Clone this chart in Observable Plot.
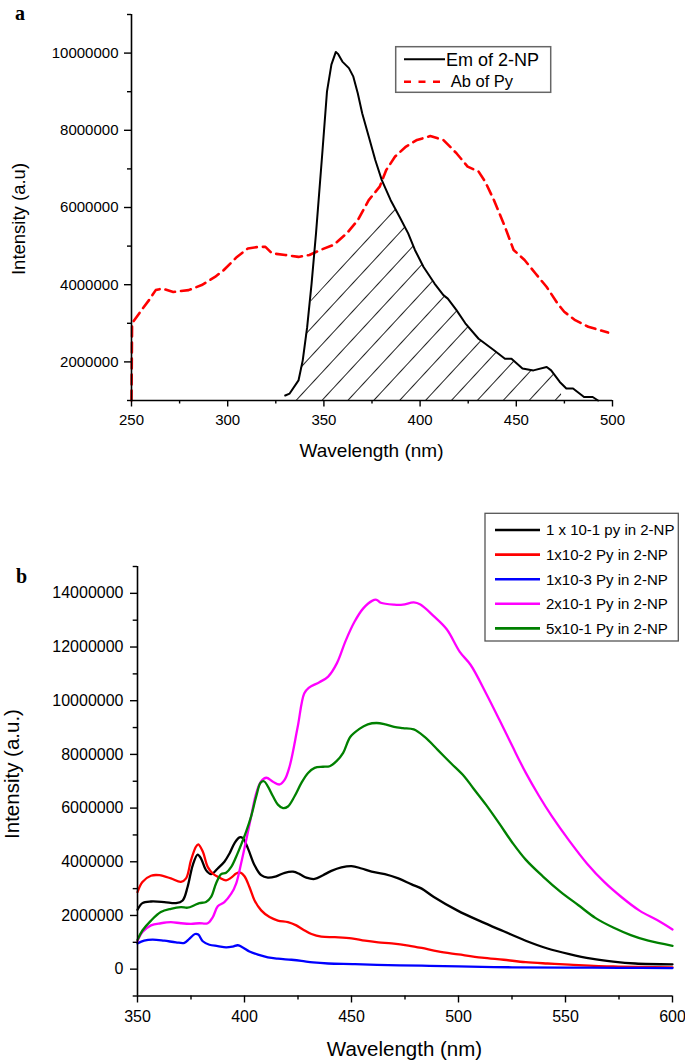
<!DOCTYPE html>
<html><head><meta charset="utf-8">
<script src="https://cdn.jsdelivr.net/npm/d3@7"></script>
<script src="https://cdn.jsdelivr.net/npm/@observablehq/plot@0.6"></script>
<style>
html,body{margin:0;padding:0;background:#fff;}
#wrap{width:685px;height:1062px;overflow:hidden;}
#wrap svg{display:block;}
</style></head><body><div id="wrap"></div>
<script>
// ---------- Panel a data (intensity in millions) ----------
const emNm  = [329.9,332.2,336.8,339.0,341.3,343.6,345.9,349.3,351.6,353.9,356.2,357.3,359.6,363.0,365.3,367.6,369.9,373.3,376.7,380.1,384.7,389.3,393.8,397.3,401.8,407.5,412.1,414.4,418.9,423.5,430.4,438.4,444.1,447.5,453.2,458.9,465.8,468.1,472.6,476.0,479.5,485.2,489.7,492.5];
const emVal = [1.13,1.18,1.52,2.04,2.9,4.03,5.33,7.49,9.0,9.7,10.03,9.98,9.78,9.61,9.39,8.96,8.44,7.84,7.23,6.71,6.19,5.76,5.33,4.9,4.46,4.03,3.73,3.64,3.34,3.0,2.6,2.3,2.08,2.08,1.83,1.78,1.87,1.78,1.48,1.31,1.31,1.09,1.09,1.0];
const abNm  = [250,250.3,254.6,259.1,262.6,266,271.7,279.7,286.5,293.4,298,304.8,310.5,316.2,319.6,323.1,329.9,336.8,342.5,348.2,355,361.9,367.6,373.3,379,382.4,387,392.7,398.4,405.3,412.1,419,424.7,430.4,433.8,438.4,444.1,448.6,454.3,460,465.8,471.5,474.9,480.6,487.4,497.7];
const abVal = [1.0,3.0,3.3,3.6,3.86,3.9,3.81,3.86,3.99,4.2,4.38,4.72,4.94,4.98,4.98,4.81,4.77,4.72,4.77,4.9,5.03,5.33,5.67,6.19,6.54,6.97,7.32,7.58,7.75,7.85,7.75,7.4,7.06,6.93,6.67,6.19,5.5,4.9,4.64,4.29,3.94,3.51,3.3,3.08,2.91,2.76];
// hatched overlap region (top edge)
const hatchNm  = [333,336.8,339.0,341.3,343.6,387,389.3,393.8,397.3,401.8,407.5,412.1,414.4,418.9,423.5,430.4,438.4,444.1,447.5,453.2,458.9,465.8,468.1,472.6,474];
const hatchTop = [1.2,1.52,2.04,2.9,3.6,6.0,5.76,5.33,4.9,4.46,4.03,3.73,3.64,3.34,3.0,2.6,2.3,2.08,2.08,1.83,1.78,1.87,1.78,1.48,1.0];
const legendA = ["Em of 2-NP","Ab of Py"];
const xTicksA = [250,300,350,400,450,500], xMinorA = [275,325,375,425,475];
const yTicksA = [2e6,4e6,6e6,8e6,10e6], yMinorA = [1e6,3e6,5e6,7e6,9e6,11e6];

// ---------- Panel b data (intensity in millions) ----------
const seriesNames = ["1 x 10-1 py in 2-NP","1x10-2 Py in 2-NP","1x10-3 Py in 2-NP","2x10-1 Py in 2-NP","5x10-1 Py in 2-NP"];
const seriesColors = ["#000000","#ff0000","#0000ff","#ff00ff","#008000"];
const blackNm = [350,352.3,356.3,362.5,368,371.1,373.4,375.8,378.1,379.7,382,384.4,387.5,390.6,393,395.3,397.7,399.2,401.6,404.7,407.8,410.9,414.8,418.8,422.7,425.8,428.9,432.8,436.7,440.6,445.3,450,454.7,459.4,465.6,471.9,478.1,482.8,488.3,499.6,510.9,521.1,531.4,541.6,551.8,562.1,572.3,582.6,600];
const blackVal = [2.21,2.46,2.52,2.5,2.46,2.56,3.06,3.87,4.27,4.12,3.69,3.54,3.75,4.0,4.31,4.69,4.91,4.88,4.5,3.87,3.5,3.41,3.46,3.59,3.63,3.54,3.41,3.36,3.5,3.66,3.79,3.84,3.75,3.63,3.54,3.38,3.16,3.0,2.7,2.18,1.76,1.41,1.06,0.77,0.56,0.39,0.28,0.21,0.18];
const redNm = [350,352.3,356.3,360.2,365.6,370.3,372.7,375,377.3,378.4,380.5,382.8,385.2,388.3,391.4,393.8,396.1,398.1,400,402.3,404.7,407.8,411.7,415.6,420.3,424.2,427.3,431.3,435.9,442.2,450,456.3,462.5,468.8,476.6,482.8,490.4,500,510.9,521.1,531.4,541.6,551.8,572.3,600];
const redVal = [2.87,3.25,3.48,3.5,3.38,3.25,3.38,4.06,4.56,4.65,4.38,3.81,3.56,3.41,3.31,3.41,3.56,3.6,3.46,3.06,2.56,2.19,1.94,1.81,1.75,1.63,1.48,1.31,1.21,1.19,1.15,1.06,1.0,0.96,0.88,0.79,0.66,0.55,0.43,0.35,0.26,0.21,0.17,0.1,0.07];
const blueNm = [350,353.1,357,362.5,368,371.9,374.2,376.9,378.4,380.5,383.6,387.5,391.4,394.5,396.9,399.2,402.3,406.3,410.9,415.6,421.9,426.6,432,439.1,451.6,467.2,482.8,500,525,550,575,600];
const blueVal = [0.96,1.06,1.1,1.06,1.0,0.98,1.13,1.31,1.29,1.04,0.91,0.86,0.81,0.84,0.89,0.81,0.66,0.54,0.44,0.39,0.35,0.31,0.25,0.21,0.19,0.15,0.13,0.1,0.07,0.06,0.05,0.04];
const magentaNm = [350,352.3,356.3,360.9,365.6,370.3,375,378.9,382.8,385.2,387.5,390.6,393.8,396.1,398.4,400.8,403.1,405.5,407.8,410.2,413.3,416.4,418.8,421.1,424.8,427.9,430,435,439.1,443.2,447.3,451.4,455.5,459.6,461.7,463.7,469.9,474,479.1,482.2,488.3,494.5,500.6,505.7,512.9,519.1,525.2,531.4,537.5,543.6,551.8,560,568.2,576.4,584.6,592.8,600];
const magentaVal = [1.04,1.38,1.63,1.71,1.75,1.71,1.69,1.71,1.71,1.94,2.34,2.5,2.81,3.19,3.94,4.81,5.69,6.56,7.0,7.13,6.98,6.88,7.06,7.56,9.0,10.27,10.48,10.69,10.9,11.4,12.24,12.94,13.44,13.72,13.76,13.65,13.58,13.58,13.66,13.58,13.16,12.66,11.82,11.33,10.27,9.29,8.3,7.32,6.47,5.7,4.78,3.94,3.24,2.67,2.18,1.83,1.48];
const greenNm = [350,352.3,356.3,360.9,365.6,370.3,373.4,376.6,378.9,382,384.4,386.7,389.1,391.4,393.8,396.1,398.4,400.8,403.1,405.5,407.5,409.1,410.9,413.3,415.6,418,420.3,423.4,426.6,429.7,432.8,436.7,439.8,443,446.1,449.4,453.5,457.6,461.7,465.8,469.9,474,479.1,484.2,490.4,496.5,502.7,506.8,512.9,519.1,525.2,531.4,539.5,547.7,555.9,564.1,572.3,580.5,588.7,600];
const greenVal = [1.09,1.44,1.81,2.13,2.25,2.31,2.29,2.38,2.46,2.5,2.69,3.19,3.54,3.59,3.81,4.19,4.63,5.13,5.69,6.44,6.94,7.0,6.81,6.44,6.13,6.0,6.06,6.44,6.94,7.31,7.5,7.54,7.56,7.75,8.06,8.65,8.94,9.12,9.17,9.12,9.03,8.98,8.93,8.65,8.16,7.67,7.18,6.75,6.12,5.42,4.71,4.08,3.45,2.88,2.39,1.9,1.55,1.27,1.06,0.87];
const xTicksB = [350,400,450,500,550,600], xMinorB = [375,425,475,525,575];
const yTicksB = [0,2e6,4e6,6e6,8e6,10e6,12e6,14e6], yMinorB = [-1e6,1e6,3e6,5e6,7e6,9e6,11e6,13e6,15e6];

// ---------- helpers ----------
const M = 1e6;
const rows = (nm, v) => nm.map((x, i) => ({nm: x, v: v[i] * M}));
const FONT = "'Liberation Sans', Arial, Helvetica, sans-serif";
const NS = "http://www.w3.org/2000/svg";
function el(parent, tag, attrs, text) {
  const e = document.createElementNS(NS, tag);
  for (const k in attrs) e.setAttribute(k, attrs[k]);
  if (text != null) e.textContent = text;
  parent.appendChild(e);
  return e;
}
const fmt = d3.format("d");

// ---------- Panel a ----------
const emRows = rows(emNm, emVal), abRows = rows(abNm, abVal), hatchRows = rows(hatchNm, hatchTop);
const plotA = Plot.plot({
  width: 685, height: 470,
  marginTop: 14, marginBottom: 70, marginLeft: 131, marginRight: 73,
  x: {domain: [250, 500]},
  y: {domain: [1e6, 11e6]},
  style: {fontFamily: FONT, fontSize: "15px", color: "black", background: "white", overflow: "visible"},
  marks: [
    Plot.areaY(hatchRows, {x: "nm", y1: () => 1e6, y2: "v", fill: "url(#hatchA)", curve: "linear"}),
    Plot.line(abRows, {x: "nm", y: "v", stroke: "#ff0000", strokeWidth: 2.6, strokeDasharray: "10,6", curve: "linear"}),
    Plot.line(emRows, {x: "nm", y: "v", stroke: "black", strokeWidth: 2, curve: "linear"}),
    Plot.ruleX([250], {y1: 1e6, y2: 11e6, stroke: "black", strokeWidth: 1.6}),
    Plot.ruleY([1e6], {x1: 250, x2: 500, stroke: "black", strokeWidth: 1.6}),
    Plot.axisX({ticks: xTicksA, tickSize: 6.5, tickPadding: 7, tickFormat: fmt, label: null, strokeWidth: 1.4}),
    Plot.axisX({ticks: xMinorA, tickSize: 3.5, tickFormat: () => "", label: null, strokeWidth: 1.4}),
    Plot.axisY({ticks: yTicksA, tickSize: 7, tickPadding: 6, tickFormat: fmt, label: null, strokeWidth: 1.4}),
    Plot.axisY({ticks: yMinorA, tickSize: 4, tickFormat: () => "", label: null, strokeWidth: 1.4})
  ]
});
{
  const defs = document.createElementNS(NS, "defs");
  plotA.insertBefore(defs, plotA.firstChild);
  const pat = el(defs, "pattern", {id: "hatchA", patternUnits: "userSpaceOnUse", x: 0, y: 4.8, width: 10, height: 19, patternTransform: "rotate(-47.2)"});
  el(pat, "line", {x1: -1, y1: 9.5, x2: 11, y2: 9.5, stroke: "#222", "stroke-width": 1});
  // panel label, axis titles
  el(plotA, "text", {x: 15, y: 19.5, "text-anchor": "start", "font-family": "'Liberation Serif', 'Times New Roman', serif", "font-weight": "bold", "font-size": 20}, "a");
  el(plotA, "text", {transform: "translate(18.5,219) rotate(-90)", "text-anchor": "middle", "dominant-baseline": "central", "font-family": FONT, "font-size": 18.5}, "Intensity (a.u)");
  el(plotA, "text", {x: 371.5, y: 450, "text-anchor": "middle", "dominant-baseline": "central", "font-family": FONT, "font-size": 19}, "Wavelength (nm)");
  // legend
  const g = el(plotA, "g", {"text-anchor": "start"});
  el(g, "rect", {x: 395.7, y: 46.7, width: 155, height: 45.6, fill: "white", stroke: "#666", "stroke-width": 1.5});
  el(g, "line", {x1: 404, y1: 59.3, x2: 445, y2: 59.3, stroke: "black", "stroke-width": 2});
  el(g, "text", {x: 446, y: 66, "text-anchor": "start", "font-family": FONT, "font-size": 18}, legendA[0]);
  el(g, "line", {x1: 404, y1: 81.7, x2: 445, y2: 81.7, stroke: "#ff0000", "stroke-width": 2.6, "stroke-dasharray": "7,7.5"});
  el(g, "text", {x: 450.7, y: 87.3, "text-anchor": "start", "font-family": FONT, "font-size": 16.5}, legendA[1]);
}

// ---------- Panel b ----------
const bNm = [blackNm, redNm, blueNm, magentaNm, greenNm];
const bVal = [blackVal, redVal, blueVal, magentaVal, greenVal];
const plotB = Plot.plot({
  width: 685, height: 592,
  marginTop: 96, marginBottom: 66.5, marginLeft: 137, marginRight: 13,
  x: {domain: [350, 600]},
  y: {domain: [-1e6, 15e6]},
  style: {fontFamily: FONT, fontSize: "16px", color: "black", background: "white", overflow: "visible"},
  marks: [
    ...bNm.map((nm, i) => Plot.line(rows(nm, bVal[i]), {x: "nm", y: "v", stroke: seriesColors[i], strokeWidth: 2.3, curve: "catmull-rom"})),
    Plot.ruleX([350], {y1: -1e6, y2: 15e6, stroke: "black", strokeWidth: 1.6}),
    Plot.ruleY([-1e6], {x1: 350, x2: 600, stroke: "black", strokeWidth: 1.6}),
    Plot.axisX({ticks: xTicksB, tickSize: 7, tickPadding: 8, tickFormat: fmt, label: null, strokeWidth: 1.4}),
    Plot.axisX({ticks: xMinorB, tickSize: 4, tickFormat: () => "", label: null, strokeWidth: 1.4}),
    Plot.axisY({ticks: yTicksB, tickSize: 7, tickPadding: 7, tickFormat: fmt, label: null, strokeWidth: 1.4}),
    Plot.axisY({ticks: yMinorB, tickSize: 4.3, tickFormat: () => "", label: null, strokeWidth: 1.4})
  ]
});
{
  el(plotB, "text", {x: 16, y: 112.7, "text-anchor": "start", "font-family": "'Liberation Serif', 'Times New Roman', serif", "font-weight": "bold", "font-size": 20}, "b");
  el(plotB, "text", {transform: "translate(11,304) rotate(-90)", "text-anchor": "middle", "dominant-baseline": "central", "font-family": FONT, "font-size": 20.5}, "Intensity (a.u.)");
  el(plotB, "text", {x: 404.5, y: 578, "text-anchor": "middle", "dominant-baseline": "central", "font-family": FONT, "font-size": 20.5}, "Wavelength (nm)");
  const g = el(plotB, "g", {"text-anchor": "start"});
  el(g, "rect", {x: 485, y: 43.3, width: 193.3, height: 127.7, fill: "white", stroke: "#555", "stroke-width": 1.3});
  seriesNames.forEach((name, i) => {
    const y = 60 + i * 24.6;
    el(g, "line", {x1: 495, y1: y, x2: 540, y2: y, stroke: seriesColors[i], "stroke-width": 2.6});
    el(g, "text", {x: 546, y: y + 5.4, "text-anchor": "start", "font-family": FONT, "font-size": 15}, name);
  });
}

const wrap = document.getElementById("wrap");
wrap.appendChild(plotA);
wrap.appendChild(plotB);
</script>
</body></html>
